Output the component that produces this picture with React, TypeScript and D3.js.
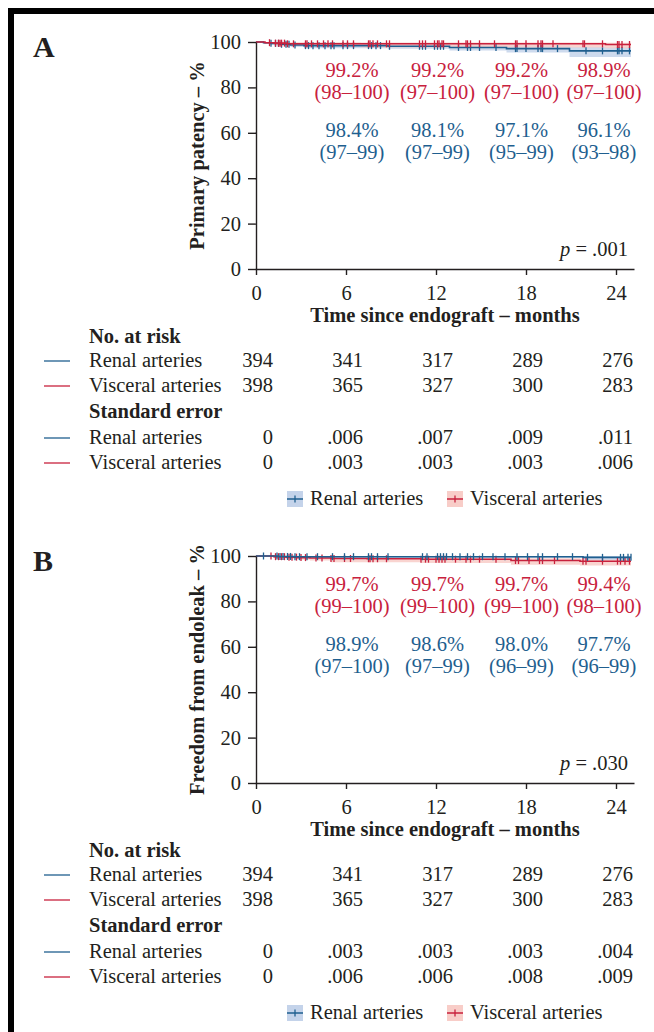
import { useEffect, useRef } from 'react';
import * as d3 from 'd3';

const BLUE = '#1f5f8f';
const RED = '#c8213d';
const BLUE_BAND = '#c4d3ea';
const RED_BAND = '#f8cdc8';
const INK = '#231f20';
const FONT = "'Liberation Serif', 'Times New Roman', serif";

const xTicks = [0, 6, 12, 18, 24];
const yTicks = [0, 20, 40, 60, 80, 100];
const riskTimes = [0, 6, 12, 18, 24];
const curveEnd = 25;
const annotMonths = [6.4, 12.1, 17.7, 23.2];

// Panel A - primary patency
const renalA_t = [0, 0.5, 1.0, 1.6, 2.3, 3.2, 8.8, 12.9, 16.7, 20.9];
const renalA_s = [100, 99.7, 99.4, 99.0, 98.7, 98.4, 98.1, 97.6, 97.1, 96.1];
const renalA_lo = [100, 99.2, 98.8, 98.3, 97.8, 97.3, 97.0, 96.3, 95.4, 93.4];
const renalA_hi = [100, 100, 99.9, 99.6, 99.4, 99.1, 99.0, 98.8, 98.6, 97.8];
const renalA_cens = [1.0, 1.3, 1.5, 1.7, 2.0, 2.2, 2.6, 3.3, 3.5, 3.8, 4.2, 4.6, 5.0, 5.2, 5.8, 6.1, 6.5, 7.5, 7.7, 8.0, 8.3, 8.9, 10.9, 11.1, 11.3, 11.9, 12.1, 12.3, 12.5, 13.5, 14.1, 14.3, 14.9, 16.0, 17.3, 17.4, 18.0, 18.8, 19.0, 19.1, 20.1, 22.0, 23.1, 24.1, 24.2, 24.4, 24.9];

const viscA_t = [0, 0.6, 1.2, 2.0, 7.0, 23.3];
const viscA_s = [100, 99.7, 99.5, 99.2, 99.2, 98.9];
const viscA_lo = [100, 99.1, 98.6, 98.2, 97.6, 97.2];
const viscA_hi = [100, 100, 100, 99.9, 99.8, 99.7];
const viscA_cens = [0.9, 1.3, 1.5, 1.6, 1.7, 1.9, 2.1, 2.5, 3.3, 3.4, 3.7, 4.1, 4.5, 4.8, 5.1, 5.8, 6.1, 6.5, 7.5, 7.6, 7.8, 8.1, 8.7, 8.9, 10.9, 11.1, 11.3, 11.9, 12.1, 12.2, 12.4, 12.5, 13.5, 14.0, 14.1, 14.3, 14.9, 15.9, 17.3, 17.4, 18.0, 18.8, 19.0, 19.1, 19.8, 21.8, 21.9, 23.1, 24.1, 24.2, 24.4, 24.9];

const redAnnotA = ['99.2%', '99.2%', '99.2%', '98.9%'];
const redCiA = ['(98–100)', '(97–100)', '(97–100)', '(97–100)'];
const blueAnnotA = ['98.4%', '98.1%', '97.1%', '96.1%'];
const blueCiA = ['(97–99)', '(97–99)', '(95–99)', '(93–98)'];

const riskRenalA = ['394', '341', '317', '289', '276'];
const riskViscA = ['398', '365', '327', '300', '283'];
const seRenalA = ['0', '.006', '.007', '.009', '.011'];
const seViscA = ['0', '.003', '.003', '.003', '.006'];

// Panel B - freedom from endoleak
const renalB_t = [0, 1.5, 2.5, 21.8];
const renalB_s = [100, 99.8, 99.7, 99.4];
const renalB_lo = [100, 99.4, 99.1, 98.4];
const renalB_hi = [100, 100, 100, 100];
const renalB_cens = [0.5, 1.4, 1.6, 1.8, 2.1, 2.3, 2.6, 2.9, 3.4, 4.1, 5.1, 5.9, 6.5, 7.5, 7.7, 8.1, 8.8, 11.1, 11.4, 12.1, 12.3, 12.5, 12.7, 13.1, 13.6, 14.1, 14.5, 15.1, 15.8, 16.6, 17.4, 18.1, 18.8, 19.1, 20.1, 21.1, 22.1, 23.1, 24.3, 24.5, 24.8, 25.0];

const viscB_t = [0, 1.2, 2.0, 2.8, 3.6, 5.0, 7.4, 11.0, 17.0, 21.6];
const viscB_s = [100, 99.7, 99.5, 99.3, 99.1, 98.9, 98.8, 98.6, 98.0, 97.7];
const viscB_lo = [100, 99.2, 98.8, 98.4, 98.0, 97.3, 97.2, 96.9, 96.2, 95.8];
const viscB_hi = [100, 100, 100, 99.9, 99.8, 99.7, 99.6, 99.4, 99.0, 98.8];
const viscB_cens = [1.0, 1.3, 1.5, 1.7, 1.9, 2.2, 2.4, 2.7, 3.0, 3.3, 4.0, 4.4, 5.0, 5.2, 5.9, 6.3, 7.5, 7.6, 7.8, 8.1, 8.7, 11.0, 11.3, 11.5, 12.0, 12.2, 12.4, 12.6, 13.3, 14.0, 14.3, 14.9, 16.0, 17.3, 17.5, 18.2, 18.9, 19.1, 19.9, 21.8, 22.0, 23.1, 24.1, 24.3, 24.6, 24.9];

const redAnnotB = ['99.7%', '99.7%', '99.7%', '99.4%'];
const redCiB = ['(99–100)', '(99–100)', '(99–100)', '(98–100)'];
const blueAnnotB = ['98.9%', '98.6%', '98.0%', '97.7%'];
const blueCiB = ['(97–100)', '(97–99)', '(96–99)', '(96–99)'];

const riskRenalB = ['394', '341', '317', '289', '276'];
const riskViscB = ['398', '365', '327', '300', '283'];
const seRenalB = ['0', '.003', '.003', '.003', '.004'];
const seViscB = ['0', '.006', '.006', '.008', '.009'];

const panels = [
  {
    letter: 'A', top: 0, yTitle: 'Primary patency – %', pText: '.001',
    series: [
      { t: renalA_t, s: renalA_s, lo: renalA_lo, hi: renalA_hi, cens: renalA_cens, color: BLUE, band: BLUE_BAND },
      { t: viscA_t, s: viscA_s, lo: viscA_lo, hi: viscA_hi, cens: viscA_cens, color: RED, band: RED_BAND },
    ],
    annot: [redAnnotA, redCiA, blueAnnotA, blueCiA],
    risk: [riskRenalA, riskViscA], se: [seRenalA, seViscA],
  },
  {
    letter: 'B', top: 514, yTitle: 'Freedom from endoleak – %', pText: '.030',
    series: [
      { t: viscB_t, s: viscB_s, lo: viscB_lo, hi: viscB_hi, cens: viscB_cens, color: RED, band: RED_BAND },
      { t: renalB_t, s: renalB_s, lo: renalB_lo, hi: renalB_hi, cens: renalB_cens, color: BLUE, band: BLUE_BAND },
    ],
    annot: [redAnnotB, redCiB, blueAnnotB, blueCiB],
    risk: [riskRenalB, riskViscB], se: [seRenalB, seViscB],
  },
];

const drawPanel = (svg, p) => {
  const g = svg.append('g').attr('transform', `translate(0,${p.top})`);
  const x = d3.scaleLinear().domain([0, 25.2]).range([256, 634]);
  const y = d3.scaleLinear().domain([0, 100]).range([269, 42]);

  // panel letter
  g.append('text').attr('x', 33).attr('y', 57)
    .attr('font-size', 30).attr('font-weight', 'bold').text(p.letter);

  // confidence bands, then step lines
  p.series.forEach(sr => {
    const pts = sr.t.map((t, i) => ({ t, s: sr.s[i], lo: sr.lo[i], hi: sr.hi[i] }));
    pts.push({ t: curveEnd, s: sr.s[sr.s.length - 1], lo: sr.lo[sr.lo.length - 1], hi: sr.hi[sr.hi.length - 1] });
    g.append('path')
      .attr('d', d3.area().curve(d3.curveStepAfter).x(d => x(d.t)).y0(d => y(d.lo)).y1(d => y(d.hi))(pts))
      .attr('fill', sr.band).attr('opacity', 0.85);
  });
  p.series.forEach(sr => {
    const pts = sr.t.map((t, i) => ({ t, s: sr.s[i] }));
    pts.push({ t: curveEnd, s: sr.s[sr.s.length - 1] });
    g.append('path')
      .attr('d', d3.line().curve(d3.curveStepAfter).x(d => x(d.t)).y(d => y(d.s))(pts))
      .attr('fill', 'none').attr('stroke', sr.color).attr('stroke-width', 1.6);
    // censor marks
    const survAt = c => sr.s[Math.max(0, d3.bisectRight(sr.t, c) - 1)];
    g.append('g').selectAll('line').data(sr.cens).enter().append('line')
      .attr('x1', d => x(d)).attr('x2', d => x(d))
      .attr('y1', d => y(survAt(d)) - 3.5).attr('y2', d => y(survAt(d)) + 3.5)
      .attr('stroke', sr.color).attr('stroke-width', 1.3);
  });

  // axes
  const yAxis = g.append('g').attr('transform', 'translate(256,0)')
    .call(d3.axisLeft(y).tickValues(yTicks).tickSize(8).tickPadding(7).tickSizeOuter(0));
  const xAxis = g.append('g').attr('transform', 'translate(0,269)')
    .call(d3.axisBottom(x).tickValues(xTicks).tickSize(6).tickPadding(10).tickSizeOuter(0));
  [yAxis, xAxis].forEach(a => {
    a.attr('font-family', FONT).attr('font-size', 20.5);
    a.selectAll('path, line').attr('stroke', INK).attr('stroke-width', 1.4);
    a.selectAll('text').attr('fill', INK);
  });

  // axis titles
  g.append('text').attr('x', 445).attr('y', 322).attr('text-anchor', 'middle')
    .attr('font-weight', 'bold').text('Time since endograft – months');
  g.append('text').attr('transform', `translate(204,${(y(0) + y(100)) / 2})rotate(-90)`)
    .attr('text-anchor', 'middle').attr('font-weight', 'bold').text(p.yTitle);

  // estimates at 6/12/18/24 months
  const annotRows = [
    { labels: p.annot[0], y: 77, color: RED },
    { labels: p.annot[1], y: 99, color: RED },
    { labels: p.annot[2], y: 137, color: BLUE },
    { labels: p.annot[3], y: 159, color: BLUE },
  ];
  annotRows.forEach(r => {
    g.append('g').selectAll('text').data(r.labels).enter().append('text')
      .attr('x', (d, i) => x(annotMonths[i])).attr('y', r.y)
      .attr('text-anchor', 'middle').attr('fill', r.color).text(d => d);
  });

  // p value
  const pv = g.append('text').attr('x', 628).attr('y', 256).attr('text-anchor', 'end');
  pv.append('tspan').attr('font-style', 'italic').text('p');
  pv.append('tspan').text(` = ${p.pText}`);

  // risk table
  const rows = [
    { y: 343, header: 'No. at risk' },
    { y: 367, label: 'Renal arteries', vals: p.risk[0], color: BLUE },
    { y: 392, label: 'Visceral arteries', vals: p.risk[1], color: RED },
    { y: 418, header: 'Standard error' },
    { y: 444, label: 'Renal arteries', vals: p.se[0], color: BLUE },
    { y: 469, label: 'Visceral arteries', vals: p.se[1], color: RED },
  ];
  rows.forEach(r => {
    if (r.header) {
      g.append('text').attr('x', 89).attr('y', r.y).attr('font-weight', 'bold').text(r.header);
      return;
    }
    g.append('line').attr('x1', 44).attr('x2', 70).attr('y1', r.y - 6).attr('y2', r.y - 6)
      .attr('stroke', r.color).attr('stroke-width', 1.3);
    g.append('text').attr('x', 89).attr('y', r.y).text(r.label);
    g.append('g').selectAll('text').data(r.vals).enter().append('text')
      .attr('x', (d, i) => x(riskTimes[i]) + 17).attr('y', r.y)
      .attr('text-anchor', 'end').text(d => d);
  });

  // legend
  const legend = [
    { label: 'Renal arteries', color: BLUE, band: BLUE_BAND, x: 287 },
    { label: 'Visceral arteries', color: RED, band: RED_BAND, x: 447 },
  ];
  legend.forEach(l => {
    const lg = g.append('g').attr('transform', `translate(${l.x},491)`);
    lg.append('rect').attr('width', 16).attr('height', 16).attr('fill', l.band);
    lg.append('line').attr('x1', 0).attr('x2', 16).attr('y1', 8).attr('y2', 8)
      .attr('stroke', l.color).attr('stroke-width', 1.5);
    lg.append('line').attr('x1', 8).attr('x2', 8).attr('y1', 4.5).attr('y2', 11.5)
      .attr('stroke', l.color).attr('stroke-width', 1.3);
    lg.append('text').attr('x', 23).attr('y', 14).text(l.label);
  });
};

const App = () => {
  const svgRef = useRef(null);

  useEffect(() => {
    const width = 654;
    const height = 1032;
    const svg = d3.select(svgRef.current)
      .attr('width', width)
      .attr('height', height)
      .attr('font-family', FONT)
      .attr('font-size', 20.5)
      .attr('fill', INK)
      .style('position', 'absolute')
      .style('left', 0)
      .style('top', 0)
      .style('background', '#ffffff');

    svg.selectAll('*').remove();

    // frame: thick black rule along the top and left
    svg.append('rect').attr('x', 8).attr('y', 8).attr('width', width - 8).attr('height', 6).attr('fill', '#000');
    svg.append('rect').attr('x', 8).attr('y', 8).attr('width', 6).attr('height', height - 8).attr('fill', '#000');

    panels.forEach(p => drawPanel(svg, p));
  }, []);

  return <svg ref={svgRef}></svg>;
};

export default App;
